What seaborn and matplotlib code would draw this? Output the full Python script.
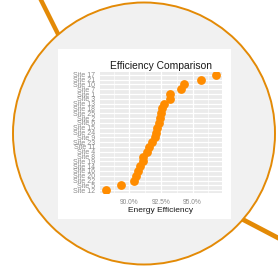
import matplotlib
matplotlib.use("Agg")
import matplotlib.pyplot as plt
from matplotlib.patches import Circle, Rectangle
from matplotlib.ticker import FuncFormatter, FixedLocator
import pandas as pd
import seaborn as sns

# data, bottom to top
sites = ["Site 12", "Site 5", "Site 22", "Site 20", "Site 16", "Site 14", "Site 19",
         "Site 8", "Site 4", "Site 11", "Site 23", "Site 9", "Site 24", "Site 15",
         "Site 6", "Site 2", "Site 25", "Site 18", "Site 13", "Site 3", "Site 1",
         "Site 7", "Site 10", "Site 21", "Site 17"]
efficiency = [88.1, 89.3, 90.35, 90.5, 90.7, 90.85, 91.05, 91.1, 91.35, 91.55, 91.8,
              92.05, 92.1, 92.2, 92.35, 92.4, 92.5, 92.6, 92.7, 93.2, 93.2, 94.05,
              94.3, 95.7, 96.9]
x_ticks = [90.0, 92.5, 95.0]
x_minor = [88.75, 91.25, 93.75, 96.25]

df = pd.DataFrame({"site": sites, "eff": efficiency})

sns.set_style("darkgrid", {"axes.facecolor": "#ebebeb", "grid.color": "white"})
plt.rcParams["font.family"] = ["Liberation Sans", "DejaVu Sans"]

W, H = 278, 268
fig = plt.figure(figsize=(W / 100, H / 100), dpi=100)
fig.patch.set_facecolor("white")

# decoration: circle frame and white card
bg = fig.add_axes([0, 0, 1, 1])
bg.set_xlim(0, W)
bg.set_ylim(H, 0)
bg.axis("off")
orange = "#e38a06"
bg.plot([40, 60], [-2, 38], color=orange, lw=3.2, solid_capstyle="butt", zorder=1)
bg.plot([240, 282], [218, 240], color=orange, lw=3.4, solid_capstyle="butt", zorder=1)
bg.add_patch(Circle((144, 133.5), 131, facecolor="#f1f1f1", edgecolor=orange,
                    lw=1.4, zorder=2))
bg.add_patch(Rectangle((58, 49), 173, 170, facecolor="white", edgecolor="none",
                       zorder=3))

# main chart
ax = fig.add_axes([100 / W, 75 / H, 122 / W, 121 / H])
sns.scatterplot(data=df, x="eff", y="site", ax=ax, color="#ff8c00", s=40,
                linewidth=0, zorder=3)

rng = max(efficiency) - min(efficiency)
ax.set_xlim(min(efficiency) - 0.05 * rng, max(efficiency) + 0.05 * rng)
ax.set_ylim(-0.6, len(sites) - 0.4)
ax.xaxis.set_major_locator(FixedLocator(x_ticks))
ax.xaxis.set_minor_locator(FixedLocator(x_minor))
ax.xaxis.set_major_formatter(FuncFormatter(lambda v, p: f"{v:.1f}%"))
ax.grid(True, which="major", color="white", lw=0.9)
ax.grid(True, which="minor", axis="x", color="white", lw=0.45)
for s in ax.spines.values():
    s.set_visible(False)

ax.tick_params(axis="y", labelsize=5.0, colors="#8a8a8a", length=2, width=0.6, pad=1.5)
ax.tick_params(axis="x", which="major", labelsize=4.8, colors="#8a8a8a", length=2,
               width=0.6, pad=2)
ax.tick_params(axis="x", which="minor", length=0)

ax.set_title("Efficiency Comparison", fontsize=7.4, color="#1a1a1a", pad=2)
ax.set_xlabel("Energy Efficiency", fontsize=6.0, color="#1a1a1a", labelpad=1)
ax.set_ylabel("")

fig.savefig("out.png", dpi=100, facecolor="white")
